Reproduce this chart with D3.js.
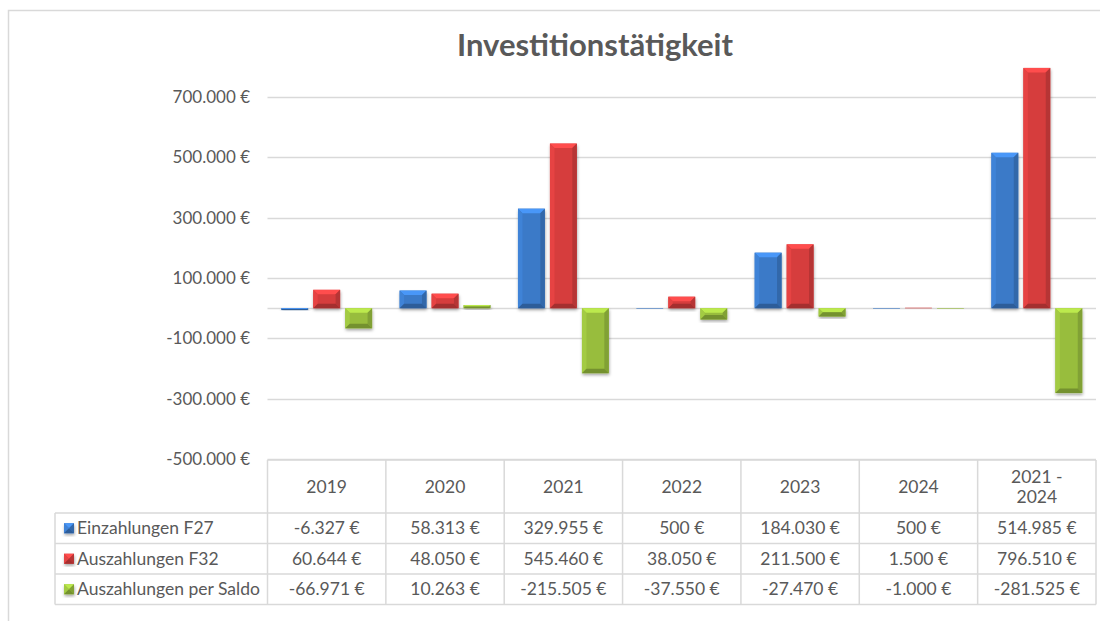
<!DOCTYPE html>
<html><head><meta charset="utf-8">
<script src="https://cdn.jsdelivr.net/npm/d3@7"></script>
<style>
body{margin:0;background:#fff}
svg{display:block}
text{font-family:Lato,"Open Sans",sans-serif}
</style>
</head><body>
<svg id="c" width="1100" height="621"></svg>
<script>
// ---- data ----
const categories = ["2019","2020","2021","2022","2023","2024","2021 - 2024"];
const seriesNames = ["Einzahlungen F27","Auszahlungen F32","Auszahlungen per Saldo"];
const einzahlungenF27 = [-6327, 58313, 329955, 500, 184030, 500, 514985];
const auszahlungenF32 = [60644, 48050, 545460, 38050, 211500, 1500, 796510];
const auszahlungenSaldo = [-66971, 10263, -215505, -37550, -27470, -1000, -281525];
const yTicks = [-500000, -300000, -100000, 100000, 300000, 500000, 700000];
const title = "Investitionstätigkeit";

const seriesValues = [einzahlungenF27, auszahlungenF32, auszahlungenSaldo];
const seriesColors = ["#3b7ac8", "#d63e3e", "#98bd3e"];

// ---- setup ----
const svg = d3.select("#c");
const W = 1100, H = 621;
const locale = d3.formatLocale({decimal: ",", thousands: ".", grouping: [3], currency: ["", ""], minus: "-"});
const fmtNum = locale.format(",.0f");
const fmt = v => fmtNum(v) + " €";

const plotLeft = 267.5, plotRight = 1096;
const x = d3.scaleBand().domain(categories).range([plotLeft, plotRight]).padding(0);
const xs = d3.scaleBand().domain(seriesNames).range([0, x.bandwidth()]).paddingInner(0.16).paddingOuter(0.43);
const y = d3.scaleLinear().domain([-500000, 700000]).range([459, 97]);

const gridColor = "#d9d9d9";
const textColor = "#595959";
const tableFont = 17.5;

// shadow filter
const defs = svg.append("defs");
const f = defs.append("filter").attr("id", "sh").attr("x", "-30%").attr("y", "-30%").attr("width", "160%").attr("height", "160%");
f.append("feDropShadow").attr("dx", 0.5).attr("dy", 2).attr("stdDeviation", 1.4)
  .attr("flood-color", "#000").attr("flood-opacity", 0.35);

// outer border
svg.append("path").attr("d", `M8.5,${H} L8.5,10.5 L${W},10.5`)
  .attr("fill", "none").attr("stroke", gridColor).attr("stroke-width", 1.5);

// title
svg.append("text").attr("x", 595).attr("y", 56).attr("text-anchor", "middle")
  .attr("font-size", 31).attr("font-weight", "bold").attr("fill", textColor).text(title);

// gridlines
svg.append("g").selectAll("line").data(yTicks.concat([0])).join("line")
  .attr("x1", plotLeft).attr("x2", plotRight)
  .attr("y1", d => Math.round(y(d)) + 0.5).attr("y2", d => Math.round(y(d)) + 0.5)
  .attr("stroke", gridColor).attr("stroke-width", 1.5);

// y axis labels
const yAxis = d3.axisLeft(y).tickValues(yTicks).tickFormat(fmt).tickSize(0).tickPadding(0);
const yg = svg.append("g").attr("transform", "translate(250,0)").call(yAxis);
yg.select(".domain").remove();
yg.selectAll("text").attr("font-size", 17).attr("fill", textColor)
  .attr("font-family", "Lato,'Open Sans',sans-serif");

// bevel bar drawing
function bevelBar(g, x0, y0, w, h, color) {
  const x1 = x0 + w, y1 = y0 + h;
  const b = Math.max(0, Math.min(4.5, w / 2, h / 2));
  const c = d3.color(color);
  const light = c.brighter(0.6).formatHex();
  const side = c.brighter(0.2).formatHex();
  const dark = c.darker(0.45).formatHex();
  const darker = c.darker(0.75).formatHex();
  const bar = g.append("g");
  bar.append("rect").attr("x", x0).attr("y", y0).attr("width", w).attr("height", Math.max(h, 0.6))
    .attr("fill", color).attr("filter", "url(#sh)");
  if (b > 0.3) {
    const P = pts => pts.map(p => p.join(",")).join(" ");
    bar.append("polygon").attr("points", P([[x0,y0],[x1,y0],[x1-b,y0+b],[x0+b,y0+b]])).attr("fill", light);
    bar.append("polygon").attr("points", P([[x0,y0],[x0+b,y0+b],[x0+b,y1-b],[x0,y1]])).attr("fill", side);
    bar.append("polygon").attr("points", P([[x1,y0],[x1,y1],[x1-b,y1-b],[x1-b,y0+b]])).attr("fill", dark);
    bar.append("polygon").attr("points", P([[x0,y1],[x0+b,y1-b],[x1-b,y1-b],[x1,y1]])).attr("fill", darker);
  }
}

// bars
const barsG = svg.append("g");
seriesNames.forEach((s, si) => {
  seriesValues[si].forEach((v, ci) => {
    const bx = x(categories[ci]) + xs(s);
    const top = y(Math.max(0, v)), bottom = y(Math.min(0, v));
    bevelBar(barsG, bx, top, xs.bandwidth(), bottom - top, seriesColors[si]);
  });
});

// data table
const headerTop = 460, headerBottom = 513, rowH = 30.5, legendLeft = 55;
const tableBottom = headerBottom + rowH * seriesNames.length;
const tg = svg.append("g");
const lineStyle = sel => sel.attr("stroke", gridColor).attr("stroke-width", 1.5).attr("fill", "none");

tg.append("line").attr("x1", plotLeft).attr("x2", plotRight).attr("y1", headerTop).attr("y2", headerTop).call(lineStyle);
d3.range(seriesNames.length + 1).forEach(i => {
  const yy = headerBottom + i * rowH;
  tg.append("line").attr("x1", legendLeft).attr("x2", plotRight).attr("y1", yy).attr("y2", yy).call(lineStyle);
});
tg.append("line").attr("x1", legendLeft).attr("x2", legendLeft).attr("y1", headerBottom).attr("y2", tableBottom).call(lineStyle);
categories.forEach(c => {
  tg.append("line").attr("x1", x(c)).attr("x2", x(c)).attr("y1", headerTop).attr("y2", tableBottom).call(lineStyle);
});
tg.append("line").attr("x1", plotRight).attr("x2", plotRight).attr("y1", headerTop).attr("y2", tableBottom).call(lineStyle);

// header texts
categories.forEach(c => {
  const parts = c.includes(" - ") ? [c.split(" - ")[0] + " -", c.split(" - ")[1]] : [c];
  const cx = x(c) + x.bandwidth() / 2;
  const cy = (headerTop + headerBottom) / 2;
  const lh = 20;
  parts.forEach((p, i) => {
    tg.append("text").attr("x", cx).attr("y", cy + (i - (parts.length - 1) / 2) * lh)
      .attr("dy", "0.35em").attr("text-anchor", "middle")
      .attr("font-size", tableFont).attr("fill", textColor).text(p);
  });
});

// rows
seriesNames.forEach((s, si) => {
  const cy = headerBottom + si * rowH + rowH / 2;
  bevelBar(tg, 64, cy - 5, 10, 10, seriesColors[si]);
  tg.append("text").attr("x", 77).attr("y", cy).attr("dy", "0.35em")
    .attr("font-size", tableFont).attr("fill", textColor).text(s);
  seriesValues[si].forEach((v, ci) => {
    tg.append("text").attr("x", x(categories[ci]) + x.bandwidth() / 2).attr("y", cy).attr("dy", "0.35em")
      .attr("text-anchor", "middle").attr("font-size", tableFont).attr("fill", textColor).text(fmt(v));
  });
});
</script>
</body></html>
